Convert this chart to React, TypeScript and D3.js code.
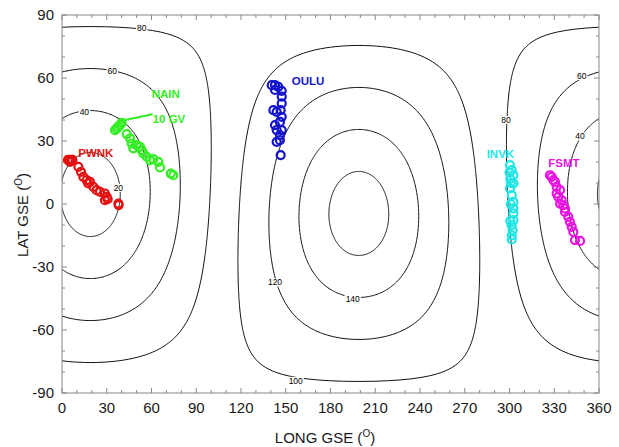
import { useEffect, useRef } from 'react'
import * as d3 from 'd3'

const xTicks = [0, 30, 60, 90, 120, 150, 180, 210, 240, 270, 300, 330, 360]
const yTicks = [-90, -60, -30, 0, 30, 60, 90]

// iso-lines of angular distance from the point below
const contourCenter: [number, number] = [19, 4.5]
const contourLevels = [20, 40, 60, 80, 100, 120, 140, 160]
const contourLabels = [
    { text: '80', lon: 53.4, lat: 83.6 },
    { text: '60', lon: 33.7, lat: 63.4 },
    { text: '40', lon: 15, lat: 43.9 },
    { text: '20', lon: 37.8, lat: 7.7 },
    { text: '80', lon: 297.6, lat: 40 },
    { text: '60', lon: 348.4, lat: 60.9 },
    { text: '40', lon: 347.3, lat: 32.2 },
    { text: '120', lon: 142.8, lat: -37.3 },
    { text: '140', lon: 194.9, lat: -45.2 },
    { text: '100', lon: 156.7, lat: -84.2 },
]

const pwnk = [
    [4, 21], [5, 21], [6, 21], [7, 21], [5.4, 20], [11, 17.7], [12.7, 15.3], [14.3, 12.9],
    [16.5, 11.4], [18.8, 10.5], [17.6, 9.8], [21, 8.2], [23.2, 6.6], [25.5, 5.8], [28.8, 5],
    [30, 3.4], [28.8, 1.8], [30.6, 2.3], [37.8, 0.2], [38, -0.5],
]
const nain = [
    [35.5, 35.2], [36.7, 36], [37.7, 36.8], [38.9, 37.6], [40, 38.7], [43.4, 33.3], [45.6, 31.2],
    [46.7, 28.8], [47.8, 26.5], [50, 28], [52.3, 27.2], [53.4, 25.7], [54.5, 24.1], [56.8, 22.5],
    [59, 20.9], [61.2, 21.4], [64.6, 20.1], [65.7, 17.4], [72.9, 14.5], [74.6, 13.7],
]
const oulu = [
    [140.6, 56.6], [142.8, 56.6], [145, 55.8], [142.8, 54.3], [147.3, 53.9], [147.3, 51.1],
    [147.3, 47.9], [141.7, 44.7], [143.9, 43.9], [146.6, 44.7], [147.3, 41.5], [146.1, 39.1],
    [142.8, 37.6], [143.9, 35.2], [147.3, 35.2], [146.1, 32.8], [143.9, 29.6], [146.1, 30.4],
    [146.6, 23.3],
]
const invk = [
    [300.3, 18.5], [301.5, 16.1], [300, 15], [302.6, 13.7], [300.5, 12], [301, 10], [302.6, 9.8],
    [300.3, 7.4], [301.5, 4.2], [302.6, 1], [300.8, 0], [302.6, -2.1], [302.6, -4.5], [302.6, -7.7],
    [300.5, -8], [301.5, -10.1], [302.1, -12.5], [301.5, -14.9], [301.5, -16.9],
]
const fsmt = [
    [327.1, 13.7], [328.3, 12.9], [329.4, 11.4], [330.5, 10.5], [331.6, 8.2], [333.9, 6.6],
    [331.6, 5], [332.7, 3.4], [335, 1.8], [333.9, 0.2], [336.1, -0.6], [337.2, -2.1], [337.2, -3.8],
    [339.4, -6.1], [340.5, -8.5], [341.7, -10.9], [342.8, -13.3], [343.9, -17.2], [347.3, -17.6],
]

const stations = [
    { name: 'PWNK', color: '#e31212', points: pwnk, label: [10.9, 22.5] },
    { name: 'NAIN', color: '#33ee22', points: nain, label: [60.1, 50.3] },
    { name: 'OULU', color: '#1414cc', points: oulu, label: [154, 56.6] },
    { name: 'INVK', color: '#22e6e6', points: invk, label: [284.7, 21.7] },
    { name: 'FSMT', color: '#e814e0', points: fsmt, label: [326, 17.4] },
]
const gvPointer = [[38.9, 39.5], [60.8, 42.7]]
const gvLabel = [60.8, 38.7]

const font = "'Liberation Sans', Arial, sans-serif"

function App() {
    const ref = useRef<SVGSVGElement>(null)

    useEffect(() => {
        const svg = d3.select(ref.current)
        svg.selectAll('*').remove()

        const left = 62, right = 599, top = 15, bottom = 393

        const x = d3.scaleLinear().domain([0, 360]).range([left, right])
        const y = d3.scaleLinear().domain([-90, 90]).range([bottom, top])

        const line = d3
            .line<number[]>()
            .x(d => x(d[0]))
            .y(d => y(d[1]))

        svg
            .append('defs')
            .append('clipPath')
            .attr('id', 'plot-clip')
            .append('rect')
            .attr('x', left)
            .attr('y', top)
            .attr('width', right - left)
            .attr('height', bottom - top)

        const contours = svg.append('g').attr('clip-path', 'url(#plot-clip)')

        for (const level of contourLevels) {
            const ring = d3.geoCircle().center(contourCenter).radius(level).precision(1)().coordinates[0]
            // unwrap the longitudes so the ring is one continuous curve
            let offset = 0
            const unwrapped = ring.map((p, i) => {
                if (i > 0) {
                    const d = p[0] - ring[i - 1][0]
                    if (d > 180) offset -= 360
                    else if (d < -180) offset += 360
                }
                return [p[0] + offset, p[1]]
            })
            for (const shift of [-720, -360, 0, 360, 720]) {
                contours
                    .append('path')
                    .datum(unwrapped.map(p => [p[0] + shift, p[1]]))
                    .attr('d', line)
                    .style('fill', 'none')
                    .style('stroke', '#111')
                    .style('stroke-width', 1)
            }
        }

        for (const lab of contourLabels) {
            const g = contours.append('g')
            const t = g
                .append('text')
                .attr('x', x(lab.lon))
                .attr('y', y(lab.lat))
                .attr('dy', '0.35em')
                .style('text-anchor', 'middle')
                .style('font-family', font)
                .style('font-size', '8.5px')
                .style('fill', '#000')
                .text(lab.text)
            const w = (t.node() as SVGTextElement).getComputedTextLength()
            g
                .insert('rect', 'text')
                .attr('x', x(lab.lon) - w / 2 - 1)
                .attr('y', y(lab.lat) - 4)
                .attr('width', w + 2)
                .attr('height', 8)
                .style('fill', 'white')
        }

        // frame and inward ticks
        const axisColor = '#888'
        svg
            .append('rect')
            .attr('x', left)
            .attr('y', top)
            .attr('width', right - left)
            .attr('height', bottom - top)
            .style('fill', 'none')
            .style('stroke', axisColor)
            .style('stroke-width', 1)

        const ticks = svg.append('g').style('stroke', axisColor).style('stroke-width', 1)
        for (const v of d3.range(0, 361, 10)) {
            const len = v % 30 === 0 ? 5 : 3
            ticks.append('line').attr('x1', x(v)).attr('x2', x(v)).attr('y1', bottom).attr('y2', bottom - len)
            ticks.append('line').attr('x1', x(v)).attr('x2', x(v)).attr('y1', top).attr('y2', top + len)
        }
        for (const v of d3.range(-90, 91, 10)) {
            const len = v % 30 === 0 ? 5 : 3
            ticks.append('line').attr('y1', y(v)).attr('y2', y(v)).attr('x1', left).attr('x2', left + len)
            ticks.append('line').attr('y1', y(v)).attr('y2', y(v)).attr('x1', right).attr('x2', right - len)
        }

        svg
            .append('g')
            .selectAll('text')
            .data(xTicks)
            .enter()
            .append('text')
            .attr('x', d => x(d))
            .attr('y', 413)
            .style('text-anchor', 'middle')
            .style('font-family', font)
            .style('font-size', '15px')
            .style('fill', '#1a1a1a')
            .text(d => d)

        svg
            .append('g')
            .selectAll('text')
            .data(yTicks)
            .enter()
            .append('text')
            .attr('x', 54)
            .attr('y', d => y(d))
            .attr('dy', '0.36em')
            .style('text-anchor', 'end')
            .style('font-family', font)
            .style('font-size', '15px')
            .style('fill', '#1a1a1a')
            .text(d => d)

        const xTitle = svg
            .append('text')
            .attr('x', 325)
            .attr('y', 443)
            .style('text-anchor', 'middle')
            .style('font-family', font)
            .style('font-size', '15px')
            .style('fill', '#1a1a1a')
        xTitle.append('tspan').text('LONG GSE (')
        xTitle.append('tspan').attr('dy', -6).style('font-size', '10px').text('O')
        xTitle.append('tspan').attr('dy', 6).text(')')

        const yTitle = svg
            .append('text')
            .attr('transform', `translate(28, 215) rotate(-90)`)
            .style('text-anchor', 'middle')
            .style('font-family', font)
            .style('font-size', '15px')
            .style('fill', '#1a1a1a')
        yTitle.append('tspan').text('LAT GSE (')
        yTitle.append('tspan').attr('dy', -6).style('font-size', '10px').text('O')
        yTitle.append('tspan').attr('dy', 6).text(')')

        // station tracks
        const marks = svg.append('g').attr('clip-path', 'url(#plot-clip)')
        for (const s of stations) {
            marks
                .append('g')
                .selectAll('circle')
                .data(s.points)
                .enter()
                .append('circle')
                .attr('cx', d => x(d[0]))
                .attr('cy', d => y(d[1]))
                .attr('r', 4)
                .style('fill', 'none')
                .style('stroke', s.color)
                .style('stroke-width', 2.2)

            svg
                .append('text')
                .attr('x', x(s.label[0]))
                .attr('y', y(s.label[1]))
                .style('font-family', font)
                .style('font-weight', 'bold')
                .style('font-size', '11.5px')
                .style('fill', s.color)
                .text(s.name)
        }

        svg
            .append('path')
            .datum(gvPointer)
            .attr('d', line)
            .style('fill', 'none')
            .style('stroke', stations[1].color)
            .style('stroke-width', 2)

        svg
            .append('text')
            .attr('x', x(gvLabel[0]))
            .attr('y', y(gvLabel[1]))
            .style('font-family', font)
            .style('font-weight', 'bold')
            .style('font-size', '11.5px')
            .style('fill', stations[1].color)
            .text('10 GV')
    })

    return (
        <div style={{ position: 'absolute', left: 0, top: 0, background: 'white' }}>
            <svg ref={ref} width={619} height={447} style={{ display: 'block' }} />
        </div>
    )
}

export default App
